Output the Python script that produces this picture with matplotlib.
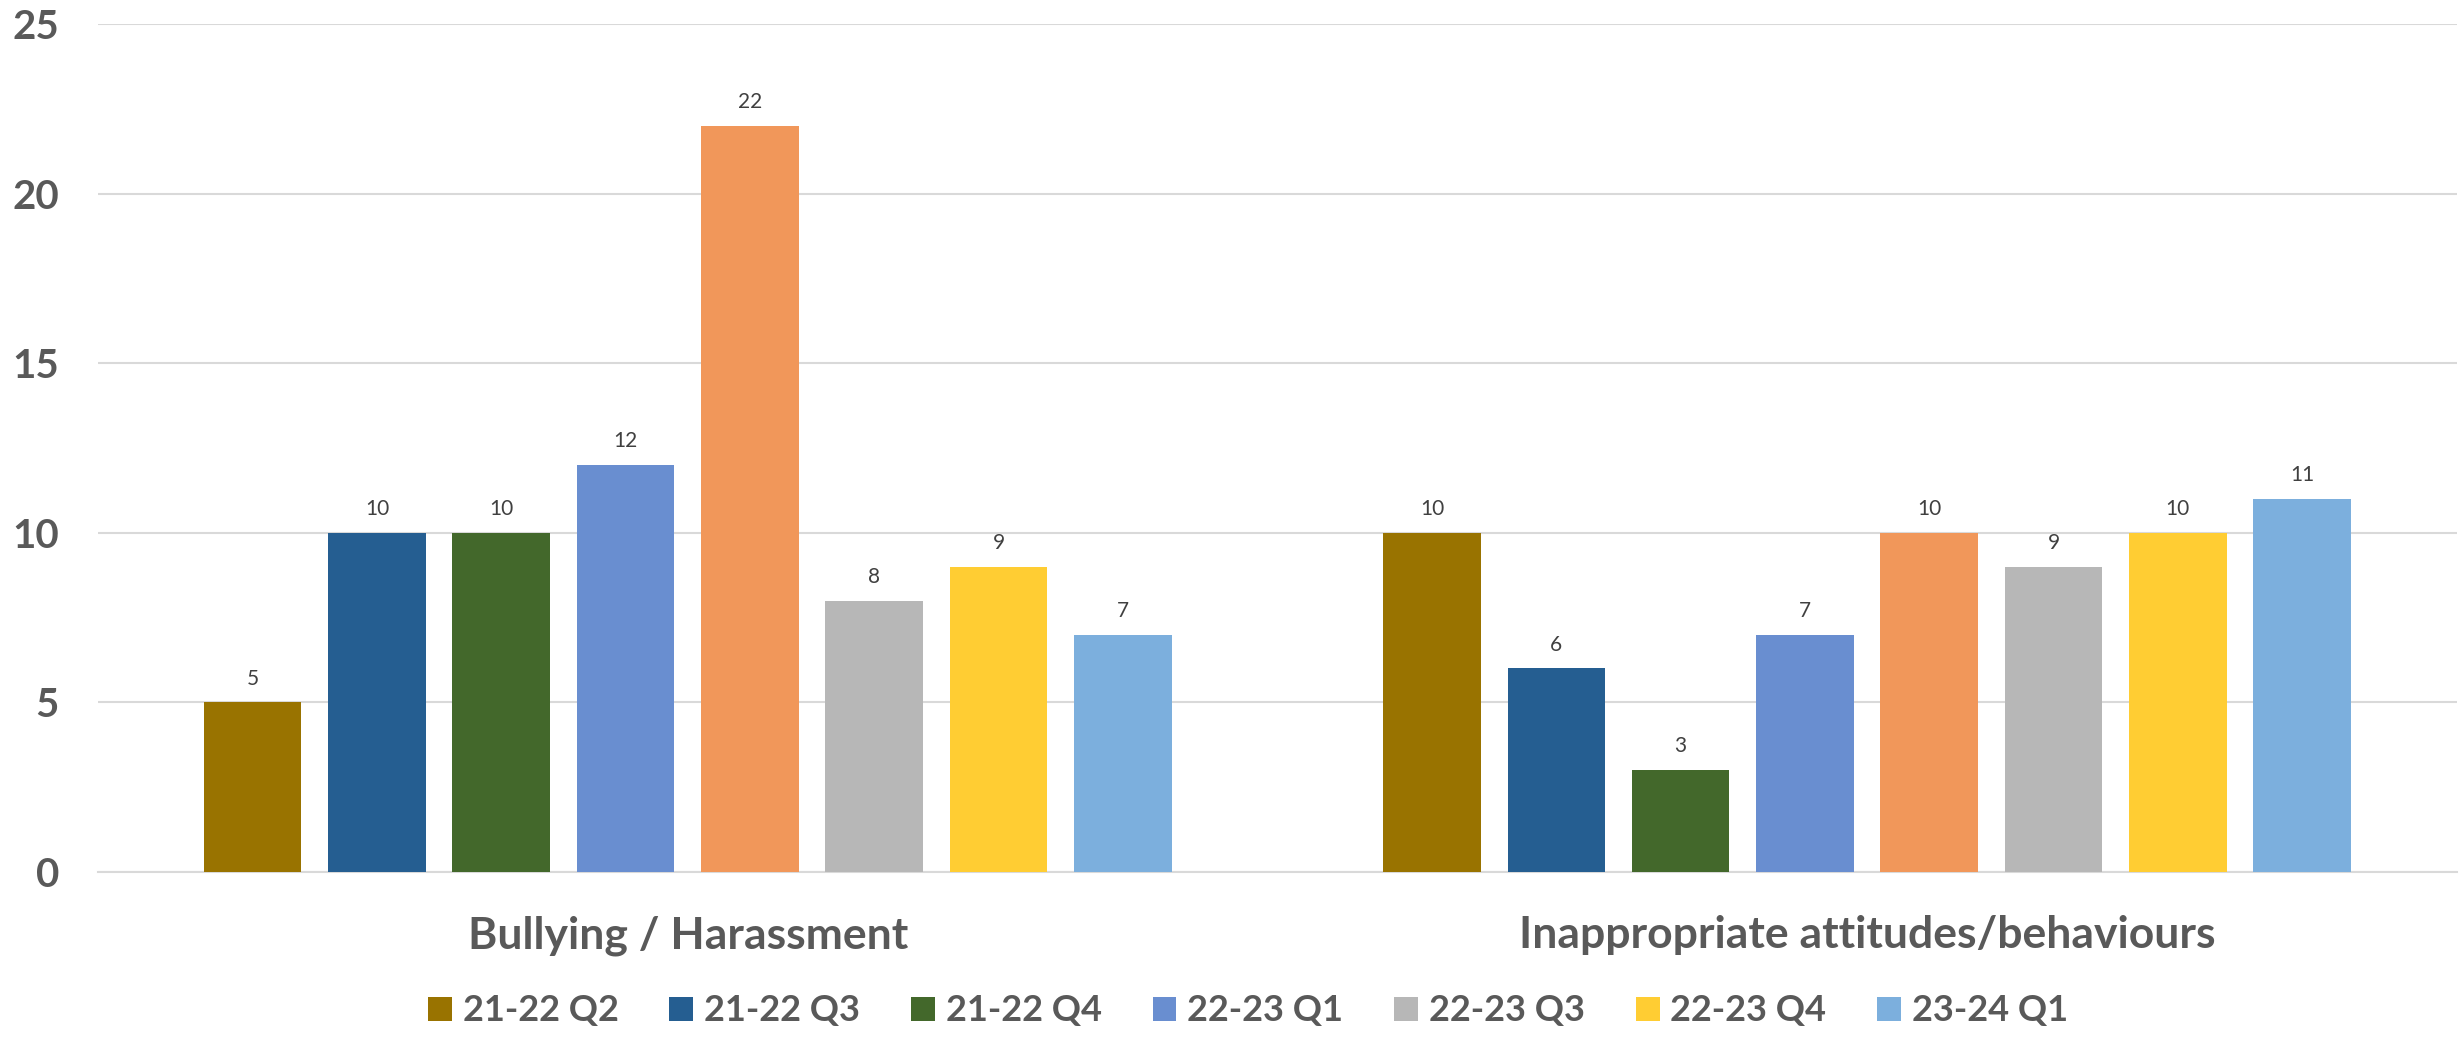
import numpy as np
import matplotlib
matplotlib.use("Agg")
from matplotlib import pyplot as plt

plt.rcParams['font.family'] = ['Lato', 'DejaVu Sans']

# data
categories = ["Bullying / Harassment", "Inappropriate attitudes/behaviours"]
series = ["21-22 Q2", "21-22 Q3", "21-22 Q4", "22-23 Q1",
          "22-23 Q2", "22-23 Q3", "22-23 Q4", "23-24 Q1"]
values = {
    "21-22 Q2": [5, 10],
    "21-22 Q3": [10, 6],
    "21-22 Q4": [10, 3],
    "22-23 Q1": [12, 7],
    "22-23 Q2": [22, 10],
    "22-23 Q3": [8, 9],
    "22-23 Q4": [9, 10],
    "23-24 Q1": [7, 11],
}
colors = ["#997300", "#255E91", "#43682B", "#698ED0",
          "#F1975A", "#B7B7B7", "#FFCD33", "#7CAFDD"]
# the orange series has no legend entry in the original
in_legend = [True, True, True, True, False, True, True, True]
yticks = [0, 5, 10, 15, 20, 25]

fig = plt.figure(figsize=(24.59, 10.38), dpi=100)
ax = fig.add_axes([98 / 2459, 166 / 1038, 2358.8 / 2459, 848 / 1038])

x = np.arange(len(categories))
step = 0.1054
width = 0.0828
n = len(series)

handles = []
for i, name in enumerate(series):
    pos = x + (i - (n - 1) / 2) * step
    bars = ax.bar(pos, values[name], width=width, color=colors[i], zorder=3,
                  label=name if in_legend[i] else "_nolegend_")
    ax.bar_label(bars, padding=10, fontsize=15, color="#404040")
    if in_legend[i]:
        handles.append(bars)

ax.set_xlim(-0.5, 1.5)
ax.set_ylim(0, 25)
ax.set_yticks(yticks)
ax.set_yticklabels([str(t) for t in yticks], fontsize=29, fontweight="bold",
                   color="#595959")
ax.set_xticks(x)
ax.set_xticklabels(categories, fontsize=32, fontweight="bold", color="#595959")
ax.tick_params(axis="y", length=0, pad=28)
ax.tick_params(axis="x", length=0, pad=31)

ax.grid(axis="y", color="#D9D9D9", linewidth=1.5, zorder=0)
ax.set_axisbelow(True)
for s in ["top", "right", "left"]:
    ax.spines[s].set_visible(False)
ax.spines["bottom"].set_color("#D9D9D9")
ax.spines["bottom"].set_linewidth(1.5)

leg = fig.legend(handles=handles, loc="center", ncol=7,
                 bbox_to_anchor=(1248 / 2459, 1 - 1011 / 1038),
                 frameon=False, handlelength=0.66, handleheight=0.66,
                 handletextpad=0.3, columnspacing=1.41,
                 prop={"size": 26, "weight": "bold"})
for t in leg.get_texts():
    t.set_color("#595959")

fig.savefig("out.png", dpi=100)
